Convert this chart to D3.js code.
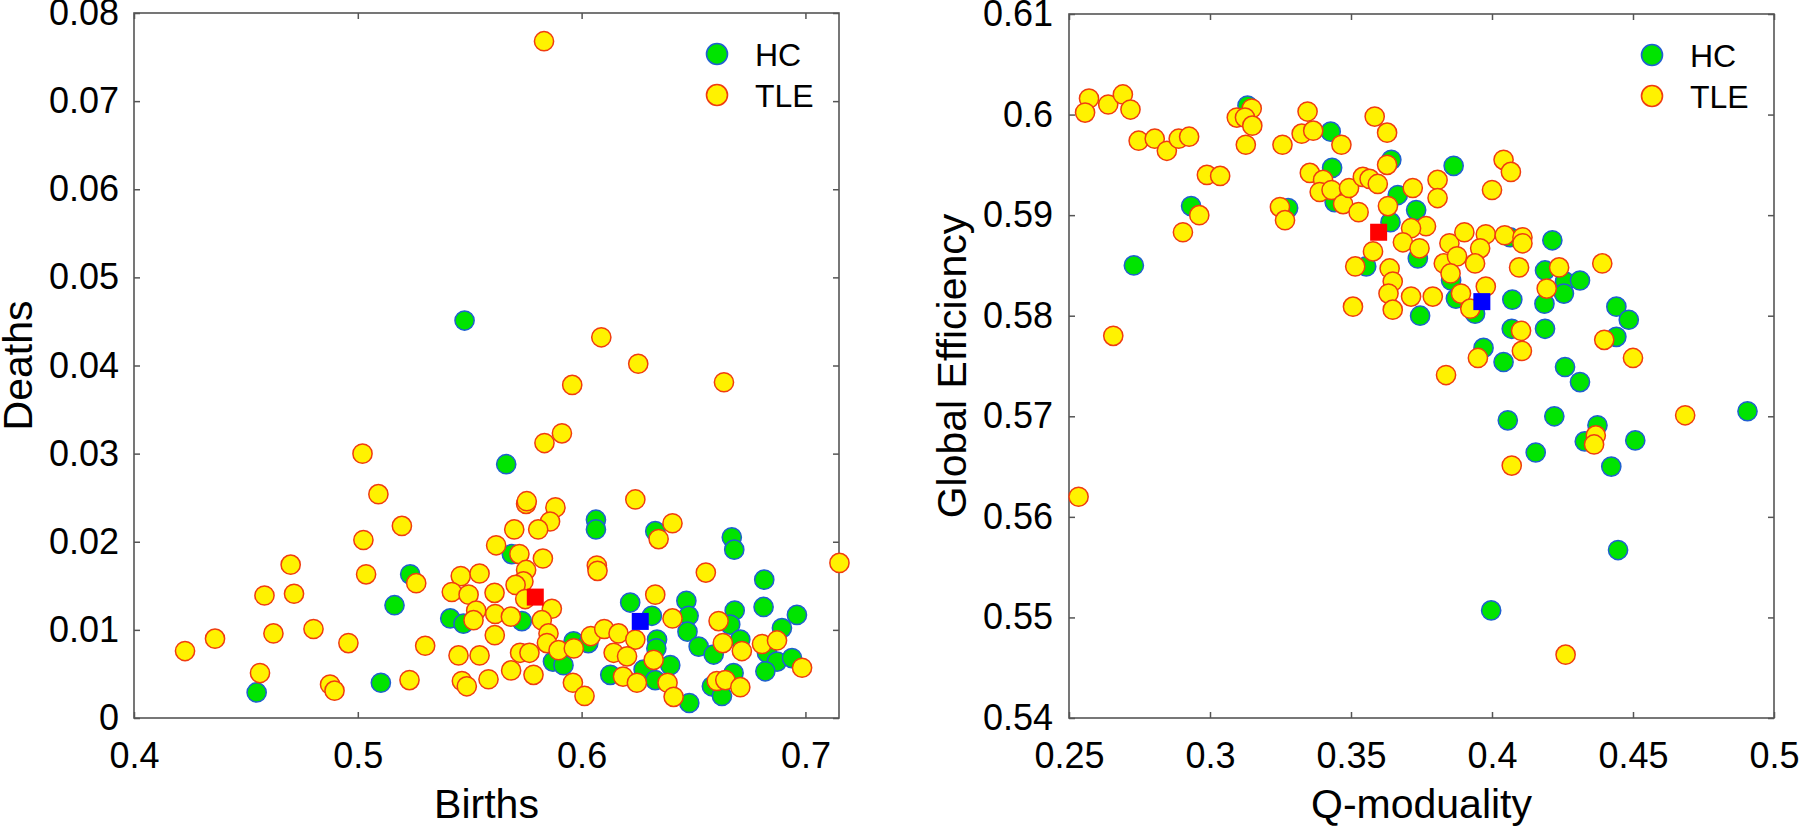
<!DOCTYPE html>
<html>
<head>
<meta charset="utf-8">
<script src="https://cdn.jsdelivr.net/npm/d3@7"></script>
<style>
  html, body { margin: 0; padding: 0; background: #fff; }
  svg { display: block; }
  text { font-family: "Liberation Sans", Arial, Helvetica, sans-serif; fill: #000; }
</style>
</head>
<body>
<svg id="chart" width="1800" height="827"></svg>
<script>
// ---------- Left panel: Births vs Deaths ----------
const hcBirths = [0.4548,0.5234,0.5164,0.5103,0.5477,0.5663,0.5688,0.5413,0.5472,0.5733,0.5964,0.6030,0.6217,0.6314,0.6468,0.6478,0.6473,0.6523,0.6337,0.6334,0.6396,0.6128,0.6277,0.6329,0.6481,0.5872,0.5919,0.6064,0.6064,0.6329,0.6671,0.6682,0.6816,0.6813,0.6684,0.6962,0.6895,0.6664,0.6709,0.6590,0.6828,0.6873,0.6940,0.6821,0.6679,0.6582,0.6627];
const hcDeaths = [0.0029,0.0163,0.0128,0.0040,0.0451,0.0288,0.0186,0.0113,0.0107,0.0110,0.0087,0.0085,0.0131,0.0116,0.0133,0.0116,0.0098,0.0081,0.0089,0.0079,0.0060,0.0049,0.0055,0.0043,0.0017,0.0064,0.0060,0.0225,0.0214,0.0212,0.0205,0.0191,0.0157,0.0126,0.0122,0.0117,0.0102,0.0106,0.0089,0.0072,0.0074,0.0064,0.0068,0.0053,0.0051,0.0036,0.0025];

const tleBirths = [0.4228,0.4362,0.4563,0.4583,0.4623,0.4700,0.4715,0.4802,0.4876,0.4896,0.4958,0.5021,0.5092,0.5025,0.5037,0.5197,0.5261,0.5231,0.5301,
  0.5832,0.6088,0.6253,0.6636,0.5958,
  0.5912,0.5834,0.5752,0.5755,0.5883,0.5859,0.5699,0.5806,0.5618,0.5722,0.5827,0.5752,0.5460,0.5544,0.5740,0.5705,0.5420,0.5495,0.5611,0.5748,0.5867,0.5529,0.5614,0.5684,0.5517,0.5822,0.5612,0.5852,0.5845,0.5897,0.5965,0.6041,0.6101,0.6165,0.6240,0.6329,0.6406,0.6322,0.6143,0.6203,0.6185,0.6247,0.6384,0.6411,0.5961,0.6013,0.5785,0.5685,0.5725,0.5767,0.5584,0.5465,0.5487,0.5450,0.5544,0.6068,0.6071,0.6240,0.6406,0.6344,0.6555,0.7152,0.6612,0.6631,0.6716,0.6806,0.6873,0.6985,0.6604,0.6642,0.6709];
const tleDeaths = [0.0076,0.0090,0.0051,0.0139,0.0096,0.0174,0.0141,0.0101,0.0038,0.0031,0.0085,0.0300,0.0254,0.0202,0.0163,0.0218,0.0153,0.0043,0.0082,
  0.0768,0.0432,0.0402,0.0381,0.0378,
  0.0323,0.0312,0.0243,0.0246,0.0239,0.0223,0.0214,0.0214,0.0196,0.0186,0.0181,0.0168,0.0161,0.0164,0.0155,0.0151,0.0143,0.0140,0.0142,0.0135,0.0124,0.0122,0.0118,0.0115,0.0111,0.0111,0.0094,0.0096,0.0085,0.0077,0.0079,0.0093,0.0101,0.0096,0.0089,0.0140,0.0113,0.0066,0.0074,0.0070,0.0047,0.0040,0.0040,0.0024,0.0040,0.0025,0.0049,0.0054,0.0074,0.0074,0.0044,0.0042,0.0036,0.0071,0.0071,0.0173,0.0167,0.0248,0.0221,0.0203,0.0165,0.0176,0.0110,0.0085,0.0076,0.0084,0.0088,0.0057,0.0042,0.0043,0.0035];

const leftMeans = [ {group:"TLE", x:0.5793, y:0.01372}, {group:"HC", x:0.6262, y:0.01096} ];
const leftXTicks = [0.4, 0.5, 0.6, 0.7];
const leftYTicks = [0, 0.01, 0.02, 0.03, 0.04, 0.05, 0.06, 0.07, 0.08];

// ---------- Right panel: Q-modularity vs Global Efficiency ----------
const hcQ = [0.2933,0.2730,0.3133,0.3428,0.3433,0.3442,0.3643,0.3277,0.3666,0.3640,0.3731,0.3864,0.3737,0.3554,0.3745,0.3855,0.3872,
  0.4064,0.4214,0.4188,0.4259,0.4312,0.4255,0.4186,0.3940,0.4072,0.4070,0.4188,0.4441,0.4485,0.4441,0.3970,0.4041,0.4259,0.4312,0.4056,0.4221,0.4374,0.4906,
  0.4329,0.4508,0.4155,0.4423,0.4447,0.3997];
const hcGE = [0.5909,0.5850,0.6009,0.5983,0.5947,0.5913,0.5955,0.5907,0.5920,0.5893,0.5905,0.5949,0.5857,0.5849,0.5800,0.5835,0.5817,
  0.5878,0.5875,0.5845,0.5834,0.5835,0.5822,0.5812,0.5802,0.5816,0.5787,0.5787,0.5809,0.5796,0.5779,0.5768,0.5754,0.5749,0.5734,0.5696,0.5700,0.5691,0.5705,
  0.5675,0.5676,0.5664,0.5650,0.5567,0.5507];

const tleQ = [0.2571,0.2557,0.2639,0.2691,0.2718,0.2747,0.2804,0.2847,0.2889,0.2926,0.2989,0.3036,0.2962,0.2904,0.2657,0.3148,0.3095,0.3124,0.3150,0.3127,0.3257,0.3346,0.3325,0.3366,0.3466,0.3584,0.3628,0.3354,0.3401,0.3389,0.3431,0.3472,0.3493,0.3527,0.3542,0.3566,0.3595,0.3628,0.3248,0.3266,0.3631,0.3719,0.3807,0.3807,0.3766,0.3713,0.3684,0.3743,0.3849,0.3829,0.3902,0.3578,0.3515,0.3637,0.3648,0.3633,0.3713,0.3790,0.3648,0.3507,0.3837,0.3890,
  0.4041,0.4067,0.4000,0.3978,0.4045,0.4108,0.4108,0.3958,0.3876,0.3940,0.3853,0.4096,0.4238,0.4194,0.4391,0.3978,0.3923,0.4103,0.4106,0.4398,0.4500,0.3950,0.4685,
  0.4368,0.4362,0.4070,0.4261,0.2534];
const tleGE = [0.6016,0.6002,0.6010,0.6020,0.6005,0.5974,0.5976,0.5964,0.5976,0.5978,0.5940,0.5939,0.5900,0.5883,0.5780,0.6006,0.5997,0.5997,0.5989,0.5970,0.5970,0.6003,0.5981,0.5984,0.5970,0.5998,0.5982,0.5942,0.5935,0.5923,0.5925,0.5911,0.5927,0.5903,0.5938,0.5936,0.5931,0.5950,0.5908,0.5895,0.5909,0.5927,0.5935,0.5917,0.5889,0.5887,0.5873,0.5867,0.5872,0.5852,0.5883,0.5864,0.5849,0.5847,0.5834,0.5822,0.5819,0.5819,0.5806,0.5809,0.5741,0.5822,
  0.5955,0.5943,0.5925,0.5881,0.5880,0.5878,0.5872,0.5867,0.5859,0.5852,0.5842,0.5848,0.5848,0.5827,0.5852,0.5829,0.5807,0.5785,0.5765,0.5776,0.5758,0.5758,0.5701,
  0.5681,0.5672,0.5651,0.5463,0.5620];

const rightMeans = [ {group:"TLE", x:0.3598, y:0.5883}, {group:"HC", x:0.3964, y:0.5814} ];
const rightXTicks = [0.25, 0.3, 0.35, 0.4, 0.45, 0.5];
const rightYTicks = [0.54, 0.55, 0.56, 0.57, 0.58, 0.59, 0.60, 0.61];

const legendLabels = ["HC", "TLE"];

// ---------- styles ----------
const style = {
  HC:  { fill: "#00e400", stroke: "#1f5fd0", mean: "#0000ff" },
  TLE: { fill: "#fff200", stroke: "#f03c10", mean: "#ff0000" }
};
const R = 9.6, TICK_FONT = 36, LABEL_FONT = 41, LEGEND_FONT = 32;

const svg = d3.select("#chart");

function zip(xs, ys) { return xs.map((v, i) => ({ x: v, y: ys[i] })); }

function panel(opts) {
  const x = d3.scaleLinear().domain(opts.xDomain).range([opts.left, opts.right]);
  const y = d3.scaleLinear().domain(opts.yDomain).range([opts.bottom, opts.top]);
  const g = svg.append("g");

  // axes (inward ticks on all four sides)
  const axB = g.append("g").attr("transform", `translate(0,${opts.bottom})`)
    .call(d3.axisBottom(x).tickValues(opts.xTicks).tickSize(-6).tickSizeOuter(0).tickPadding(24).tickFormat(opts.fmtX));
  const axT = g.append("g").attr("transform", `translate(0,${opts.top})`)
    .call(d3.axisTop(x).tickValues(opts.xTicks).tickSize(-6).tickSizeOuter(0).tickFormat(""));
  const axL = g.append("g").attr("transform", `translate(${opts.left},0)`)
    .call(d3.axisLeft(y).tickValues(opts.yTicks).tickSize(-6).tickSizeOuter(0).tickPadding(opts.yPad).tickFormat(opts.fmtY));
  const axR = g.append("g").attr("transform", `translate(${opts.right},0)`)
    .call(d3.axisRight(y).tickValues(opts.yTicks).tickSize(-6).tickSizeOuter(0).tickFormat(""));
  [axB, axT, axL, axR].forEach(a => {
    a.select(".domain").remove();
    a.selectAll(".tick line").attr("stroke", "#555").attr("stroke-width", 1.5);
    a.selectAll(".tick text").style("font-size", TICK_FONT + "px")
      .style("font-family", '"Liberation Sans", Arial, Helvetica, sans-serif').attr("fill", "#000");
  });
  axB.selectAll(".tick text").attr("dy", "0.71em");

  // box
  g.append("rect").attr("x", opts.left).attr("y", opts.top)
    .attr("width", opts.right - opts.left).attr("height", opts.bottom - opts.top)
    .attr("fill", "none").attr("stroke", "#555").attr("stroke-width", 1.6);

  // points: HC first, TLE on top
  const clip = "clip" + opts.id;
  svg.append("clipPath").attr("id", clip).append("rect")
    .attr("x", opts.left - 12).attr("y", opts.top - 12)
    .attr("width", opts.right - opts.left + 24).attr("height", opts.bottom - opts.top + 24);
  const pts = g.append("g").attr("clip-path", `url(#${clip})`);
  [["HC", opts.hc], ["TLE", opts.tle]].forEach(([name, data]) => {
    pts.append("g").selectAll("circle").data(data).join("circle")
      .attr("cx", d => x(d.x)).attr("cy", d => y(d.y)).attr("r", R)
      .attr("fill", style[name].fill).attr("stroke", style[name].stroke).attr("stroke-width", 1.5);
  });

  // group means as squares
  const S = 17;
  pts.append("g").selectAll("rect").data(opts.means).join("rect")
    .attr("x", d => x(d.x) - S / 2).attr("y", d => y(d.y) - S / 2)
    .attr("width", S).attr("height", S)
    .attr("fill", d => style[d.group].mean);

  // legend
  const lg = g.append("g");
  legendLabels.forEach((name, i) => {
    const cy = opts.top + 41 + i * 41;
    lg.append("circle").attr("cx", opts.right - 122).attr("cy", cy).attr("r", 10.5)
      .attr("fill", style[name].fill).attr("stroke", style[name].stroke).attr("stroke-width", 1.6);
    lg.append("text").attr("x", opts.right - 84).attr("y", cy + 12)
      .style("font-size", LEGEND_FONT + "px").text(name);
  });

  // axis labels
  g.append("text").attr("x", (opts.left + opts.right) / 2).attr("y", 818)
    .attr("text-anchor", "middle").style("font-size", LABEL_FONT + "px").text(opts.xLabel);
  g.append("text").attr("transform", `translate(${opts.yLabelX},${(opts.top + opts.bottom) / 2}) rotate(-90)`)
    .attr("text-anchor", "middle").style("font-size", LABEL_FONT + "px").text(opts.yLabel);
}

const fmtTrim = d => String(+d.toFixed(3));

panel({
  id: "L", left: 134, right: 839, top: 13, bottom: 718,
  xDomain: [0.4, 0.715], yDomain: [0, 0.08],
  xTicks: leftXTicks, yTicks: leftYTicks, fmtX: fmtTrim, fmtY: fmtTrim, yPad: 15,
  hc: zip(hcBirths, hcDeaths), tle: zip(tleBirths, tleDeaths), means: leftMeans,
  xLabel: "Births", yLabel: "Deaths", yLabelX: 32
});

panel({
  id: "R", left: 1069, right: 1774, top: 14, bottom: 718,
  xDomain: [0.25, 0.5], yDomain: [0.54, 0.61],
  xTicks: rightXTicks, yTicks: rightYTicks, fmtX: fmtTrim, fmtY: fmtTrim, yPad: 16,
  hc: zip(hcQ, hcGE), tle: zip(tleQ, tleGE), means: rightMeans,
  xLabel: "Q-moduality", yLabel: "Global Efficiency", yLabelX: 966
});
</script>
</body>
</html>
